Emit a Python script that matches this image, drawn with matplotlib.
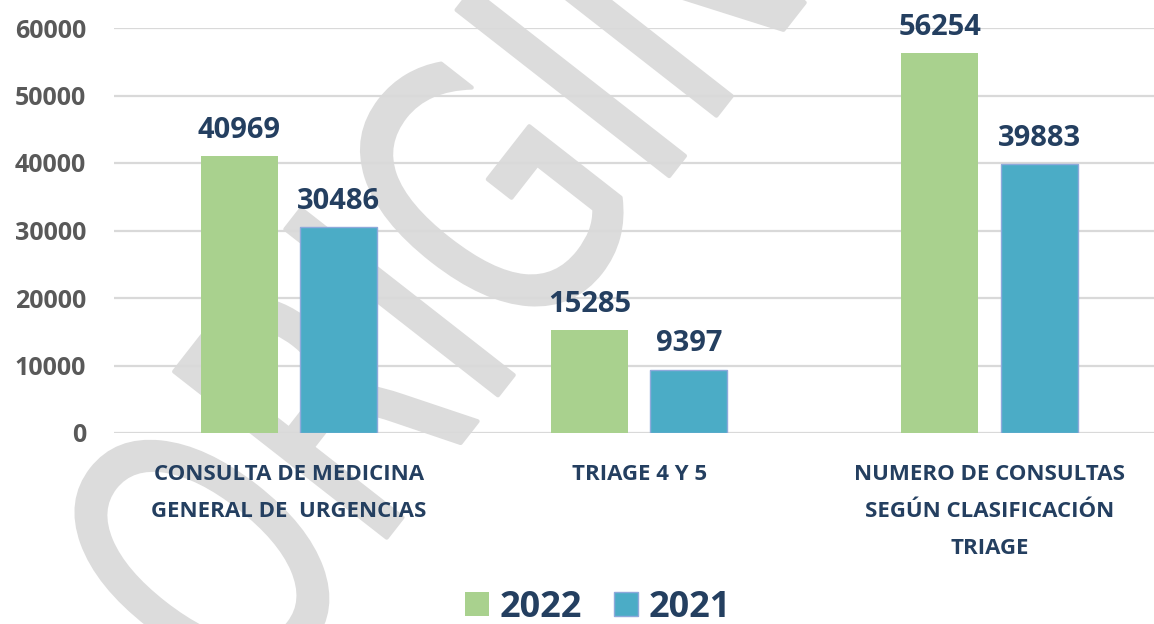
import matplotlib
matplotlib.use("Agg")
from matplotlib import pyplot as plt
from matplotlib.textpath import TextPath
from matplotlib.patches import PathPatch
from matplotlib.font_manager import FontProperties
from matplotlib.transforms import Affine2D, IdentityTransform
import numpy as np

categories = ["CONSULTA DE MEDICINA\nGENERAL DE  URGENCIAS",
              "TRIAGE 4 Y 5",
              "NUMERO DE CONSULTAS\nSEGÚN CLASIFICACIÓN\nTRIAGE"]
years = ["2022", "2021"]
values_2022 = [40969, 15285, 56254]
values_2021 = [30486, 9397, 39883]
yticks = [0, 10000, 20000, 30000, 40000, 50000, 60000]

green = "#A9D18E"
blue = "#4BACC6"
navy = "#243F60"
grey_text = "#595959"
grid_col = "#D9D9D9"

plt.rcParams["font.family"] = ["Open Sans", "DejaVu Sans"]
plt.rcParams["font.weight"] = "bold"

fig = plt.figure(figsize=(11.54, 6.24), dpi=100)
ax = fig.add_axes([114 / 1154, 191 / 624, 1 - 114 / 1154, 405 / 624])
ax.set_facecolor("none")

x = np.arange(len(categories))
w = 0.22
off = 0.142

b1 = ax.bar(x - off, values_2022, w, color=green, label=years[0], zorder=2)
b2 = ax.bar(x + off, values_2021, w, color=blue, edgecolor="#8EA9DB",
            linewidth=1, label=years[1], zorder=2)

for bars in (b1, b2):
    ax.bar_label(bars, padding=8, fontsize=21, color=navy, fontweight="bold")

ax.set_xlim(-0.5, 2.47)
ax.set_ylim(0, 60000)
ax.set_yticks(yticks)
ax.set_yticklabels([str(t) for t in yticks], fontsize=18, color=grey_text)
ax.set_xticks(x)
ax.set_xticklabels(categories, fontsize=16, color=navy, linespacing=2.0)
ax.tick_params(axis="y", length=0, pad=20)
ax.tick_params(axis="x", length=0, pad=22)
ax.yaxis.grid(True, color=grid_col, linewidth=1.6)
ax.set_axisbelow(True)
for s in ax.spines.values():
    s.set_visible(False)

# watermark "ORIGINAL" behind everything
tp = TextPath((0, 0), "ORIGINAL", size=100,
              prop=FontProperties(family="DejaVu Sans", weight="normal"))
tr = Affine2D().scale(2.6, 3.7).rotate_deg(52).translate(245, -95)
wm = PathPatch(tr.transform_path(tp), facecolor="#DCDCDC", edgecolor="#DCDCDC",
               linewidth=3, joinstyle="round", transform=IdentityTransform(),
               zorder=-1)
fig.add_artist(wm)

fig.legend(handles=[b1, b2], labels=years, loc="center",
           bbox_to_anchor=(598 / 1154, 16 / 624), ncol=2, frameon=False,
           fontsize=26, labelcolor=navy, handlelength=0.65, handleheight=0.65,
           handletextpad=0.3, columnspacing=0.9, borderpad=0)

fig.savefig("out.png", dpi=100)
